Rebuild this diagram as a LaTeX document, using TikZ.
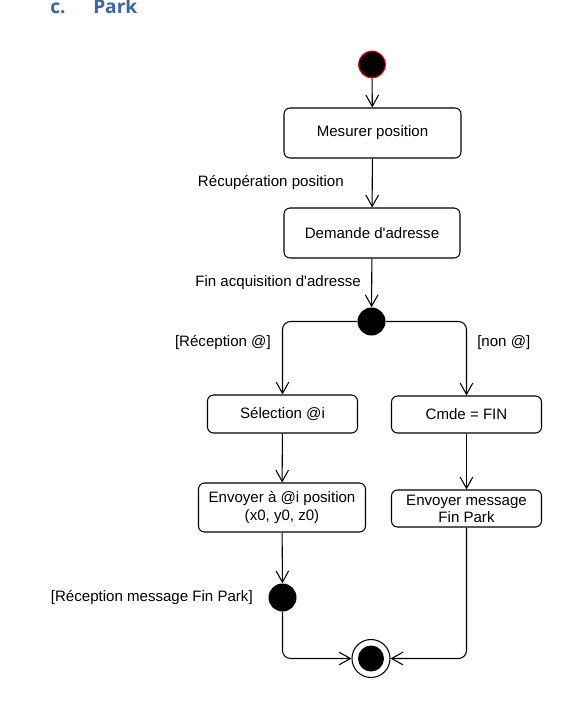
\documentclass[tikz,border=0pt]{standalone}
\usepackage{fontspec}
\setmainfont{Liberation Sans}
\newfontfamily\titlefont{Open Sans}
\usetikzlibrary{arrows.meta}
\definecolor{titleblue}{RGB}{59,99,171}
\definecolor{startred}{RGB}{230,0,0}
\begin{document}
\begin{tikzpicture}[x=0.75pt,y=-0.75pt,
  every node/.style={font=\fontsize{11.3}{12.9}\selectfont},
  box/.style={draw, line width=0.8pt, rounded corners=4.5pt, align=center, inner sep=0pt},
  dot/.style={circle, fill=black, inner sep=0pt, minimum size=21pt},
  arr/.style={line width=0.8pt, -{Straight Barb[length=8.5pt,width=9.5pt,line width=0.8pt]}},
  lbl/.style={inner sep=0pt},
  ttl/.style={font=\titlefont\bfseries\fontsize{14.3}{16}\selectfont, text=titleblue, inner sep=0pt, anchor=base west}
]
\fill[white] (0,0) rectangle (575,722);
\useasboundingbox (0,0) rectangle (575,722);
\clip (0,0) rectangle (575,722);

\node[ttl] (tc) at (50,13) {c.};
\node[ttl] (tpark) at (93,13) {Park};

\node[circle, fill=black, draw=startred, line width=0.8pt, inner sep=0pt, minimum size=20pt] (start) at (372,64.5) {};
\node[box, minimum width=132.75pt, minimum height=37.5pt] (mes) at (372.5,133) {Mesurer position};
\node[box, minimum width=132pt, minimum height=37.5pt] (dem) at (372,233) {Demande d\textquotesingle adresse};
\node[dot] (fork) at (371.5,321.5) {};
\node[box, minimum width=112.5pt, minimum height=28.5pt] (sel) at (282.5,414) {Sélection @i};
\node[box, minimum width=112.5pt, minimum height=27.75pt] (cmde) at (466.5,414.5) {Cmde = FIN};
\node[box, minimum width=125.25pt, minimum height=36.75pt] (env1) at (282,507.5) {Envoyer à @i position\\(x0, y0, z0)};
\node[box, minimum width=112.5pt, minimum height=27.75pt] (env2) at (466.5,508.5) {Envoyer message\\Fin Park};
\node[dot] (join) at (282.5,597.5) {};
\node[circle, draw, line width=0.8pt, inner sep=0pt, minimum size=28.5pt] (final) at (371,658.5) {};
\fill (final.center) circle (9.75pt);

\node[lbl, anchor=east] (l1) at (344,183) {Récupération position};
\node[lbl, anchor=east] (l2) at (361,283) {Fin acquisition d\textquotesingle adresse};
\node[lbl, anchor=east] (l3) at (271,343) {[Réception @]};
\node[lbl, anchor=west] (l4) at (477,343) {[non @]};
\node[lbl, anchor=east] (l5) at (253,598) {[Réception message Fin Park]};

\draw[arr] (start) -- (mes);
\draw[arr] (mes) -- (dem);
\draw[arr] (dem) -- (fork);
\draw[arr, rounded corners=6pt] (fork.west) -| (sel.north);
\draw[arr, rounded corners=6pt] (fork.east) -| (cmde.north);
\draw[arr] (sel) -- (env1);
\draw[arr] (cmde) -- (env2);
\draw[arr] (env1) -- (join);
\draw[arr, rounded corners=6pt] (join.south) |- (final.west);
\draw[arr, rounded corners=6pt] (env2.south) |- (final.east);
\end{tikzpicture}
\end{document}
